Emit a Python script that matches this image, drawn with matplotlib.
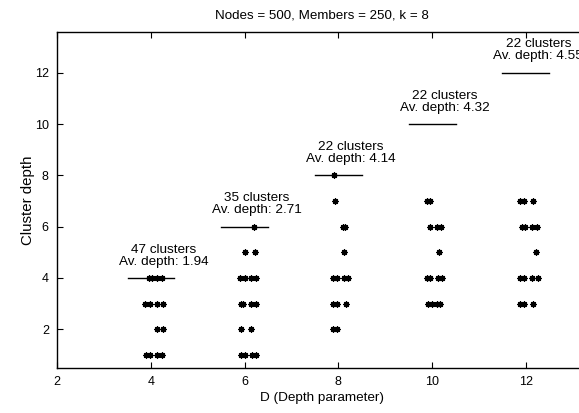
import matplotlib
matplotlib.use("Agg")
import matplotlib.pyplot as plt

plt.rcParams["font.family"] = ["Liberation Sans", "DejaVu Sans"]
plt.rcParams["font.size"] = 9

# depth parameter groups
D_VALUES = [4, 6, 8, 10, 12]
N_CLUSTERS = [47, 35, 22, 22, 22]
AV_DEPTH = [1.94, 2.71, 4.14, 4.32, 4.55]

# individual cluster points (x slightly jittered around D, y = cluster depth)
X_D4 = [3.96, 4.02, 4.13, 4.24, 3.87, 3.98, 4.13, 4.26, 4.13, 4.26, 3.89, 3.98, 4.14, 4.23]
Y_D4 = [4, 4, 4, 4, 3, 3, 3, 3, 2, 2, 1, 1, 1, 1]
X_D6 = [6.19, 6.01, 6.22, 5.90, 6.01, 6.14, 6.24, 5.92, 5.97, 6.14, 6.24, 5.92, 6.14,
        5.92, 6.00, 6.15, 6.24]
Y_D6 = [6, 5, 5, 4, 4, 4, 4, 3, 3, 3, 3, 2, 2, 1, 1, 1, 1]
X_D8 = [7.91, 7.93, 8.10, 8.15, 8.12, 7.88, 7.97, 8.12, 8.21, 7.89, 7.98, 8.16, 7.89, 7.98]
Y_D8 = [8, 7, 6, 6, 5, 4, 4, 4, 4, 3, 3, 3, 2, 2]
X_D10 = [9.89, 9.96, 9.96, 10.10, 10.19, 10.15, 9.89, 9.96, 10.13, 10.20,
         9.91, 9.99, 10.10, 10.17]
Y_D10 = [7, 7, 6, 6, 6, 5, 4, 4, 4, 4, 3, 3, 3, 3]
X_D12 = [11.88, 11.95, 12.16, 11.91, 11.99, 12.13, 12.24, 12.21, 11.88, 11.96, 12.13,
         12.25, 11.88, 11.96, 12.16]
Y_D12 = [7, 7, 7, 6, 6, 6, 6, 5, 4, 4, 4, 4, 3, 3, 3]

POINTS = [(X_D4, Y_D4), (X_D6, Y_D6), (X_D8, Y_D8), (X_D10, Y_D10), (X_D12, Y_D12)]

W, H = 579, 413
fig = plt.figure(figsize=(W / 100, H / 100), dpi=100)
left, right, top, bottom = 57.2, 586.8, 32, 368
ax = fig.add_axes([left / W, 1 - bottom / H, (right - left) / W, (bottom - top) / H])

for xs, ys in POINTS:
    ax.plot(xs, ys, linestyle="none", marker=(8, 2, 0), markersize=4.5,
            markeredgewidth=0.9, color="black")

for d, n, av in zip(D_VALUES, N_CLUSTERS, AV_DEPTH):
    ax.plot([d - 0.5, d + 0.5], [d, d], color="black", linewidth=1)
    # label sits a little right of the segment centre
    ax.annotate(f"{n} clusters\nAv. depth: {av:.2f}", xy=(d, d), xytext=(9, 7.5),
                textcoords="offset points", ha="center", va="bottom",
                linespacing=1.0, fontsize=9.7)

ax.set_xlim(2, 13.3)
ax.set_ylim(0.49, 13.59)
ax.set_xticks([2, 4, 6, 8, 10, 12])
ax.set_yticks([2, 4, 6, 8, 10, 12])
ax.tick_params(direction="in", length=4, width=0.8, top=True, right=True, pad=6)
for s in ax.spines.values():
    s.set_linewidth(1)
ax.set_xlabel("D (Depth parameter)", labelpad=3, fontsize=9.7)
ax.set_ylabel("Cluster depth", labelpad=0, fontsize=10.8)
ax.set_title("Nodes = 500, Members = 250, k = 8", pad=10, fontsize=9.6)

fig.savefig("out.png", dpi=100)
